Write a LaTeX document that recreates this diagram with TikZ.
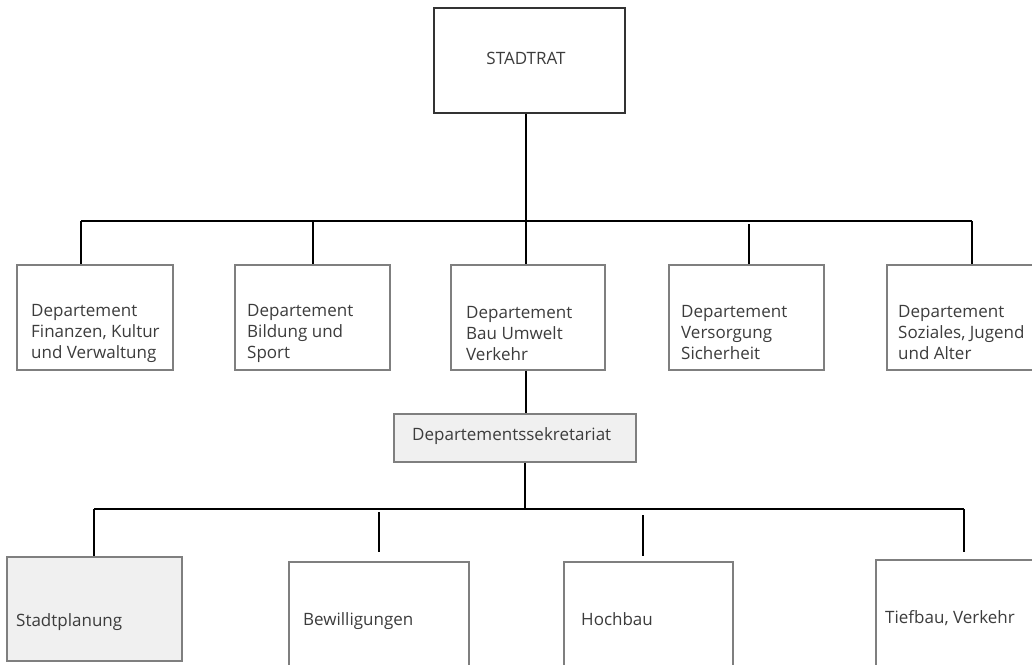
\documentclass[tikz,border=0pt]{standalone}
\usepackage{fontspec}
\setmainfont{Open Sans}
\definecolor{boxgray}{HTML}{7F7F7F}
\definecolor{boxfill}{HTML}{F0F0F0}
\definecolor{txtgray}{HTML}{3C3C3C}
\begin{document}
\begin{tikzpicture}[x=1pt,y=-1pt,
  box/.style={rectangle, draw=boxgray, line width=1.3pt, inner sep=0pt},
  shaded/.style={box, fill=boxfill},
  lbl/.style={inner sep=0pt, text=txtgray, font=\fontsize{17}{21}\selectfont, align=left, anchor=base west},
  link/.style={line width=2pt, black}
]
\clip (0,0) rectangle (1032,664);
\fill[white] (0,0) rectangle (1032,664);

% council
\node[box, draw=black!80, minimum width=191pt, minimum height=105pt] (rat) at (529.5,60.5) {};
\node[lbl, anchor=center] (ratT) at (526,58) {STADTRAT};

% departments (label base = baseline of the last line)
\node[box, minimum width=156pt, minimum height=105pt] (d1) at (95,317.5) {};
\node[box, minimum width=155pt, minimum height=105pt] (d2) at (312.5,317.5) {};
\node[box, minimum width=154pt, minimum height=105pt] (d3) at (528,317.5) {};
\node[box, minimum width=155pt, minimum height=105pt] (d4) at (746.5,317.5) {};
\node[box, minimum width=158pt, minimum height=105pt] (d5) at (966,317.5) {};
\node[lbl] (t1) at (31,358) {Departement\\Finanzen, Kultur\\und Verwaltung};
\node[lbl] (t2) at (247,358) {Departement\\Bildung und\\Sport};
\node[lbl] (t3) at (466,360) {Departement\\Bau Umwelt\\Verkehr};
\node[lbl] (t4) at (681,359) {Departement\\Versorgung\\Sicherheit};
\node[lbl] (t5) at (898,359) {Departement\\Soziales, Jugend\\und Alter};

% secretariat
\node[shaded, minimum width=242pt, minimum height=48pt] (sek) at (515,438) {};
\node[lbl] (sekT) at (412,440) {Departementssekretariat};

% offices
\node[shaded, minimum width=175pt, minimum height=104pt] (b1) at (94.5,609) {};
\node[box, minimum width=180pt, minimum height=118pt] (b2) at (379,621) {};
\node[box, minimum width=169pt, minimum height=118pt] (b3) at (648.5,621) {};
\node[box, minimum width=176pt, minimum height=120pt] (b4) at (964,620) {};
\node[lbl] (s1) at (16,626) {Stadtplanung};
\node[lbl] (s2) at (303,625) {Bewilligungen};
\node[lbl] (s3) at (581,625) {Hochbau};
\node[lbl] (s4) at (885,623) {Tiefbau, Verkehr};

% upper bus
\coordinate (busL) at (81,221);
\coordinate (busR) at (972,221);
\coordinate (j0) at (526,221);
\coordinate (j2) at (313,221);
\coordinate (j4) at (749,224);
\draw[link] (j0 |- rat.south) -- (j0);
\draw[link] (busL) -- (busR);
\draw[link] (busL) -- (busL |- d1.north);
\draw[link] (j2) -- (j2 |- d2.north);
\draw[link] (j0) -- (j0 |- d3.north);
\draw[link] (j4) -- (j4 |- d4.north);
\draw[link] (busR) -- (busR |- d5.north);
\draw[link] (j0 |- d3.south) -- (j0 |- sek.north);

% lower bus
\coordinate (k0) at (525,509);
\coordinate (kL) at (94,509);
\coordinate (kR) at (964,509);
\coordinate (k2) at (379,512);
\coordinate (k3) at (643,515);
\draw[link] (k0 |- sek.south) -- (k0);
\draw[link] (kL) -- (kR);
\draw[link] (kL) -- (kL |- b1.north);
\draw[link, shorten >=9pt] (k2) -- (k2 |- b2.north);
\draw[link, shorten >=5pt] (k3) -- (k3 |- b3.north);
\draw[link, shorten >=7pt] (kR) -- (kR |- b4.north);
\end{tikzpicture}
\end{document}
